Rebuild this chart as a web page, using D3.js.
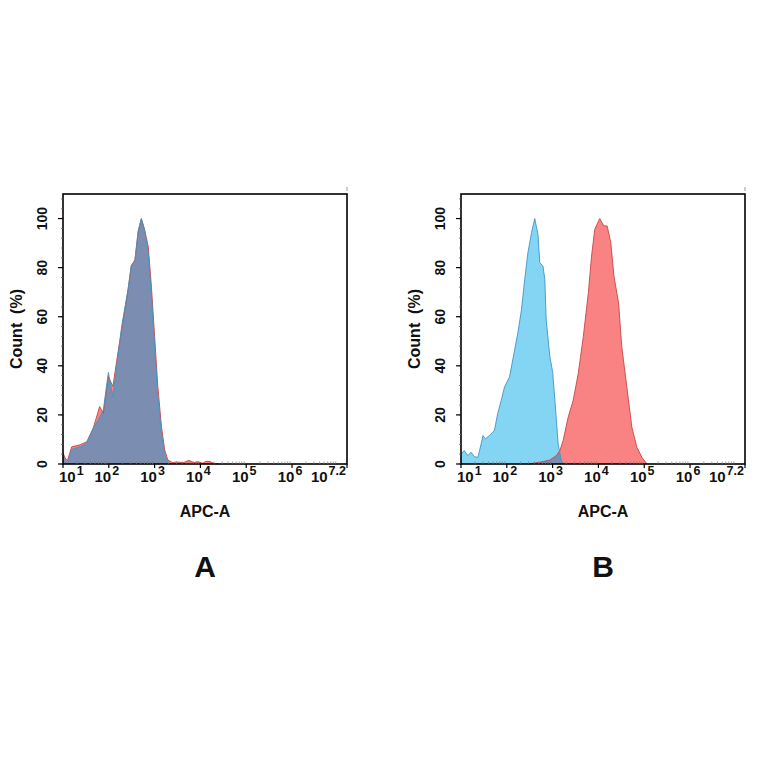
<!DOCTYPE html>
<html>
<head>
<meta charset="utf-8">
<script src="https://cdn.jsdelivr.net/npm/d3@7"></script>
<style>
  body { margin: 0; background: #fff; }
  text { font-family: "Liberation Sans", Arial, sans-serif; font-weight: bold; fill: #111; }
</style>
</head>
<body>
<svg id="chart" width="764" height="764"></svg>
<script>
// log10(APC-A) bin positions and counts (% of max)
const aRedExp   = [1.0, 1.06, 1.1, 1.19, 1.37, 1.52, 1.66, 1.80, 1.88, 1.99, 2.09, 2.17, 2.28, 2.35, 2.42, 2.49, 2.57, 2.64, 2.71, 2.78, 2.86, 2.93, 3.0, 3.07, 3.15, 3.22, 3.29, 3.39, 3.5, 3.62, 3.75, 3.85, 3.95, 4.05, 4.12, 4.21, 4.3, 4.4];
const aRedCount = [4.5, 2, 1.5, 7, 7.8, 9.1, 14.6, 23.4, 20.7, 35.6, 31.6, 41.8, 54.7, 62.9, 71, 80.5, 83.3, 94.2, 99.9, 95.5, 88.7, 72.4, 52, 31.6, 15.2, 5.7, 1.6, 0.6, 0.8, 0.5, 1.5, 0.6, 0.9, 0.3, 1.1, 1.0, 0.2, 0];

const aBlueExp   = [1.0, 1.05, 1.1, 1.19, 1.37, 1.52, 1.66, 1.77, 1.88, 1.99, 2.09, 2.17, 2.28, 2.35, 2.42, 2.49, 2.57, 2.64, 2.71, 2.78, 2.86, 2.93, 3.0, 3.07, 3.15, 3.22, 3.29, 3.35];
const aBlueCount = [3, 1.5, 0.5, 6, 7, 8.5, 14.6, 18, 22, 37.3, 27.5, 39.7, 56, 63.6, 71, 81, 82.6, 95, 100, 95.5, 86, 69, 48, 27.5, 12.5, 3.7, 0.5, 0];

const bBlueExp   = [1.0, 1.07, 1.15, 1.22, 1.29, 1.37, 1.44, 1.48, 1.53, 1.62, 1.73, 1.80, 1.88, 1.95, 2.06, 2.17, 2.24, 2.32, 2.39, 2.46, 2.54, 2.61, 2.68, 2.72, 2.79, 2.83, 2.86, 2.94, 3.0, 3.05, 3.12, 3.19, 3.24];
const bBlueCount = [4.1, 5.5, 3.4, 4.8, 3.0, 2.7, 8.2, 11.6, 10.2, 11.6, 13.7, 20.5, 26, 31.4, 35.5, 46.4, 53.3, 62.8, 75.1, 86, 94.3, 100, 93.6, 82, 80.6, 75.1, 58.7, 43.7, 37.6, 26, 8.2, 1.4, 0];

const bRedExp   = [2.46, 2.72, 2.94, 3.08, 3.16, 3.23, 3.34, 3.45, 3.56, 3.67, 3.78, 3.85, 3.92, 4.03, 4.12, 4.19, 4.27, 4.34, 4.44, 4.51, 4.62, 4.73, 4.84, 4.95, 5.06];
const bRedCount = [0, 0.7, 1.6, 3.4, 5.5, 9.6, 19.1, 26, 36.9, 51.9, 69.7, 84.7, 95.6, 100, 97, 97, 90.2, 76.5, 65.6, 47.8, 31.4, 15, 6.8, 2.7, 0];

const xTickExp = [1, 2, 3, 4, 5, 6, 7.2];
const xTickSup = ["1", "2", "3", "4", "5", "6", "7.2"];
const yTicks = [0, 20, 40, 60, 80, 100];

const svg = d3.select("#chart");
const W = 284, H = 270;

function drawPanel(left, id, letter, red, blue) {
  const g = svg.append("g").attr("transform", `translate(${left},194)`);

  const x = d3.scaleLog().domain([10, Math.pow(10, 7.2)]).range([0, W]);
  const y = d3.scaleLinear().domain([0, 110]).range([H, 0]);

  const toPts = (exps, counts) => exps.map((e, i) => ({ e: e, v: counts[i] }));
  const redPts = toPts(red[0], red[1]);
  const bluePts = toPts(blue[0], blue[1]);

  const area = d3.area()
    .x(d => x(Math.pow(10, d.e)))
    .y0(y(0))
    .y1(d => y(d.v));
  const line = d3.line()
    .x(d => x(Math.pow(10, d.e)))
    .y(d => y(d.v));

  g.append("clipPath").attr("id", "clip-" + id)
    .append("path").attr("d", area(bluePts));

  g.append("path").attr("d", area(redPts)).attr("fill", "#f98383");
  g.append("path").attr("d", area(bluePts)).attr("fill", "#84d5f3");
  g.append("path").attr("d", area(redPts)).attr("fill", "#7b8db0")
    .attr("clip-path", `url(#clip-${id})`);
  g.append("path").attr("d", line(redPts)).attr("fill", "none")
    .attr("stroke", "#c84545").attr("stroke-width", 0.9);
  g.append("path").attr("d", line(bluePts)).attr("fill", "none")
    .attr("stroke", "#3f95c4").attr("stroke-width", 0.9);

  // frame
  g.append("rect").attr("x", 0).attr("y", 0).attr("width", W).attr("height", H)
    .attr("fill", "none").attr("stroke", "#000").attr("stroke-width", 1.6);
  g.append("line").attr("x1", W).attr("x2", W).attr("y1", -7).attr("y2", -3)
    .attr("stroke", "#999").attr("stroke-width", 1);

  // y ticks
  const yMinor = d3.range(0, 111, 4);
  g.selectAll(".ymin").data(yMinor).enter().append("line")
    .attr("x1", -2).attr("x2", 0)
    .attr("y1", d => y(d)).attr("y2", d => y(d))
    .attr("stroke", "#666").attr("stroke-width", 0.8);
  g.selectAll(".ymaj").data(yTicks).enter().append("line")
    .attr("x1", -5).attr("x2", 0)
    .attr("y1", d => y(d)).attr("y2", d => y(d))
    .attr("stroke", "#000").attr("stroke-width", 1.2);
  g.selectAll(".ylab").data(yTicks).enter().append("text")
    .attr("transform", d => `translate(-16,${y(d)}) rotate(-90)`)
    .attr("text-anchor", "middle")
    .attr("font-size", "14px")
    .text(d => d);

  // x ticks
  const xMinor = [];
  for (let p = 1; p < 7.2; p++) {
    for (let k = 2; k <= 9; k++) {
      const v = k * Math.pow(10, p);
      if (v < Math.pow(10, 7.2)) xMinor.push(v);
    }
  }
  g.selectAll(".xmin").data(xMinor).enter().append("line")
    .attr("x1", d => x(d)).attr("x2", d => x(d))
    .attr("y1", H - 2.5).attr("y2", H)
    .attr("stroke", "#777").attr("stroke-width", 0.7);
  g.selectAll(".xmaj").data(xTickExp).enter().append("line")
    .attr("x1", d => x(Math.pow(10, d))).attr("x2", d => x(Math.pow(10, d)))
    .attr("y1", H).attr("y2", H + 4)
    .attr("stroke", "#000").attr("stroke-width", 1.2);

  const n = xTickExp.length;
  xTickExp.forEach((d, i) => {
    const px = x(Math.pow(10, d));
    const t = g.append("text").attr("y", H + 18).attr("font-size", "15px");
    if (i === 0) t.attr("x", px - 4).attr("text-anchor", "start");
    else if (i === n - 1) t.attr("x", px - 1).attr("text-anchor", "end");
    else t.attr("x", px - 2).attr("text-anchor", "middle");
    t.append("tspan").text("10");
    t.append("tspan").attr("font-size", "12.5px").attr("dy", -7).attr("dx", 1).text(xTickSup[i]);
  });

  // axis titles
  g.append("text").attr("x", W / 2).attr("y", 323)
    .attr("text-anchor", "middle").attr("font-size", "16px").text("APC-A");
  g.append("text")
    .attr("transform", `translate(-41,${H / 2}) rotate(-90)`)
    .attr("text-anchor", "middle").attr("font-size", "16px")
    .style("white-space", "pre")
    .text("Count  (%)");

  // panel letter
  g.append("text").attr("x", W / 2).attr("y", 383)
    .attr("text-anchor", "middle").attr("font-size", "30px").text(letter);
}

drawPanel(63, "a", "A", [aRedExp, aRedCount], [aBlueExp, aBlueCount]);
drawPanel(461, "b", "B", [bRedExp, bRedCount], [bBlueExp, bBlueCount]);
</script>
</body>
</html>
